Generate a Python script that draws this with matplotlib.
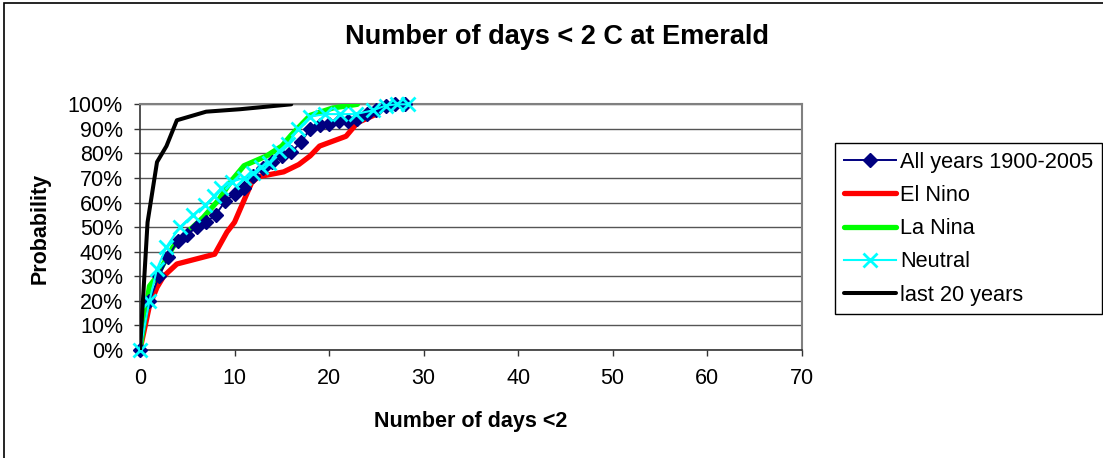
import numpy as np
import matplotlib
matplotlib.use('Agg')
import matplotlib.pyplot as plt
from matplotlib.patches import Rectangle
from matplotlib.ticker import PercentFormatter

plt.rcParams['font.family'] = ['Liberation Sans', 'DejaVu Sans']

# cumulative probability (%) against number of days < 2 C
all_x = list(range(29))
all_y = [0, 20, 30, 38, 44.5, 47, 50, 52, 55, 60.5, 63.5, 66, 71, 74, 76.5, 79,
         80.5, 84.5, 90, 91.5, 92, 93, 93, 94, 96, 97.5, 99.5, 100, 100]

elnino_x = [0, 1, 1.8, 2.5, 3.9, 7.9, 9.2, 10, 11.8, 12.5, 15.2, 16.8, 18, 19, 21.8, 23, 25]
elnino_y = [0, 18, 25.5, 30, 35, 39, 48, 52, 68, 70.5, 72.5, 75.5, 79, 83, 87, 92.5, 96]

lanina_x = [0, 1, 1.6, 3.5, 5.3, 6.7, 8.3, 9.7, 11, 13.4, 15, 16, 17, 18, 20.4, 23]
lanina_y = [0, 26, 29, 42, 49, 54, 61, 69, 75, 79, 83, 87.5, 91.5, 95.5, 98.5, 100]

neutral_x = [0, 1, 1.8, 2.8, 4.2, 5.6, 6.9, 7.8, 8.6, 9.7, 11, 12, 12.8, 13.6, 14.7,
             15.7, 16.7, 18, 19.6, 21.2, 22.8, 24.6, 26, 27.2, 28.3]
neutral_y = [0, 20, 33, 42, 50, 55, 59, 62.5, 66, 68.5, 70, 72, 74.5, 76, 81,
             84, 90, 95, 96, 96, 96, 97.5, 99.5, 100, 100]

last20_x = [0, 0.8, 1.8, 2.8, 3.9, 7, 10.6, 16]
last20_y = [0, 52, 76.5, 83, 93.5, 97, 98, 100]

W, H = 1103, 458
fig = plt.figure(figsize=(W / 100, H / 100), dpi=100)
ax = fig.add_axes([140 / W, 1 - 350 / H, 661.7 / W, 245.7 / H])

ax.plot(elnino_x, elnino_y, color='#ff0000', lw=3.8, label='El Nino', zorder=3,
        solid_capstyle='round', solid_joinstyle='round')
ax.plot(lanina_x, lanina_y, color='#00ff00', lw=3.8, label='La Nina', zorder=3.1,
        solid_capstyle='round', solid_joinstyle='round')
ax.plot(all_x, all_y, color='#000080', lw=1.4, marker='D', ms=6.8,
        label='All years 1900-2005', zorder=4, clip_on=False)
ax.plot(neutral_x, neutral_y, color='#00ffff', lw=1.5, marker='x', ms=10, mew=2,
        label='Neutral', zorder=4.5, clip_on=False)
ax.plot(last20_x, last20_y, color='black', lw=2.9, label='last 20 years', zorder=5,
        solid_capstyle='round', solid_joinstyle='round')

ax.set_xlim(0, 70)
ax.set_ylim(0, 100)
ax.set_xticks(np.arange(0, 71, 10))
ax.set_yticks(np.arange(0, 101, 10))
ax.yaxis.set_major_formatter(PercentFormatter(decimals=0))
ax.tick_params(direction='out', length=4.3, width=1, labelsize=15.5, color='#333333')
ax.tick_params(axis='x', pad=9)
ax.tick_params(axis='y', pad=8)
ax.grid(axis='y', color='#555555', lw=1)
ax.set_axisbelow(True)
for s in ['left', 'bottom']:
    ax.spines[s].set_color('#333333')
    ax.spines[s].set_linewidth(1.2)
for s in ['top', 'right']:
    ax.spines[s].set_color('#808080')
    ax.spines[s].set_linewidth(1.5)

fig.text(557 / W, 1 - 37 / H, 'Number of days < 2 C at Emerald', ha='center', va='center',
         fontsize=19.5, fontweight='bold')
fig.text(471 / W, 1 - 422 / H, 'Number of days <2', ha='center', va='center',
         fontsize=15.5, fontweight='bold')
fig.text(40 / W, 1 - 228 / H, 'Probability', ha='center', va='center', rotation=90,
         fontsize=15.5, fontweight='bold')

h, l = ax.get_legend_handles_labels()
order = [2, 0, 1, 3, 4]
leg = ax.legend([h[i] for i in order], [l[i] for i in order], loc='upper left',
                bbox_to_anchor=(835 / W, 1 - 143 / H), bbox_transform=fig.transFigure,
                borderaxespad=0, fontsize=15.7, handlelength=2.4, handletextpad=0.2,
                labelspacing=0.56, borderpad=0.4, fancybox=False, framealpha=1,
                edgecolor='black')
leg.get_frame().set_linewidth(1)

fig.patches.append(Rectangle((4 / W, -0.1), 1.5, 1.1 - 3 / H, transform=fig.transFigure,
                             fill=False, edgecolor='black', lw=1.2))

fig.savefig('out.png', dpi=100)
